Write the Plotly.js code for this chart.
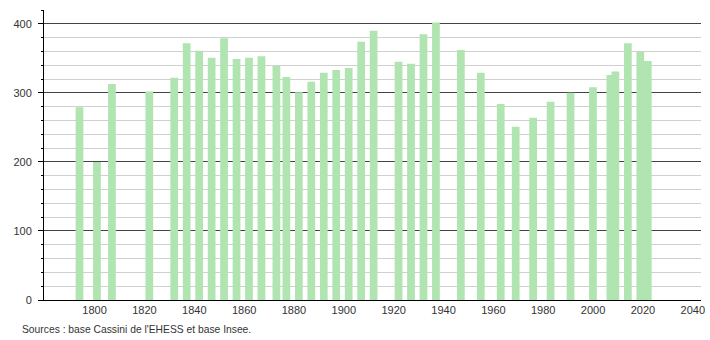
<!DOCTYPE html>
<html><head><meta charset="utf-8">
<script src="https://cdn.plot.ly/plotly-3.0.1.min.js"></script>
<style>body{margin:0;background:#fff}#c{width:710px;height:340px}</style>
</head><body><div id="c"></div>
<script>
const years = [1793,1800,1806,1821,1831,1836,1841,1846,1851,1856,1861,1866,1872,1876,1881,1886,1891,1896,1901,1906,1911,1921,1926,1931,1936,1946,1954,1962,1968,1975,1982,1990,1999,2006,2008,2013,2018,2021];
const population = [279,200,313,302,322,372,361,351,379,349,351,353,339,323,301,316,329,333,336,374,390,345,342,385,402,362,329,284,251,264,287,300,308,326,331,372,359,346];
const xTicks = [1800,1820,1840,1860,1880,1900,1920,1940,1960,1980,2000,2020,2040];
const yTicks = [0,100,200,300,400];
const sourceText = "Sources : base Cassini de l'EHESS et base Insee.";

Plotly.newPlot('c', [{
  type:'bar', x:years, y:population, width:3.1, offset:-0.6,
  marker:{color:'#b0e4b0', line:{width:0}}, hoverinfo:'x+y'
}], {
  width:710, height:340,
  margin:{l:44, r:9, t:10, b:40},
  paper_bgcolor:'#fff', plot_bgcolor:'#fff',
  font:{family:'Liberation Sans, Arial, sans-serif', size:11, color:'#333'},
  showlegend:false,
  xaxis:{range:[1779.7,2043.3], tickvals:xTicks, ticktext:xTicks.map(String),
    showgrid:false, zeroline:false, showline:true, linecolor:'#000', linewidth:1,
    ticks:'', tickfont:{size:11,color:'#333'}, fixedrange:true},
  yaxis:{range:[0,420], tickvals:yTicks, ticktext:yTicks.map(String),
    showgrid:true, gridcolor:'#444', gridwidth:1, zeroline:false,
    showline:true, linecolor:'#000', linewidth:1, ticks:'outside', ticklen:5, tickcolor:'#000',
    ticklabelstandoff:4, tickfont:{size:11,color:'#333'},
    minor:{dtick:20, showgrid:true, gridcolor:'#d0d0d0', gridwidth:1, ticks:'outside', ticklen:2, tickcolor:'#000'},
    layer:'below traces', fixedrange:true},
  annotations:[{text:sourceText, xref:'paper', yref:'paper', x:-0.036, y:-0.102, xanchor:'left', yanchor:'middle',
    showarrow:false, font:{size:10.3,color:'#333'}}]
}, {displayModeBar:false, staticPlot:true});
</script></body></html>
